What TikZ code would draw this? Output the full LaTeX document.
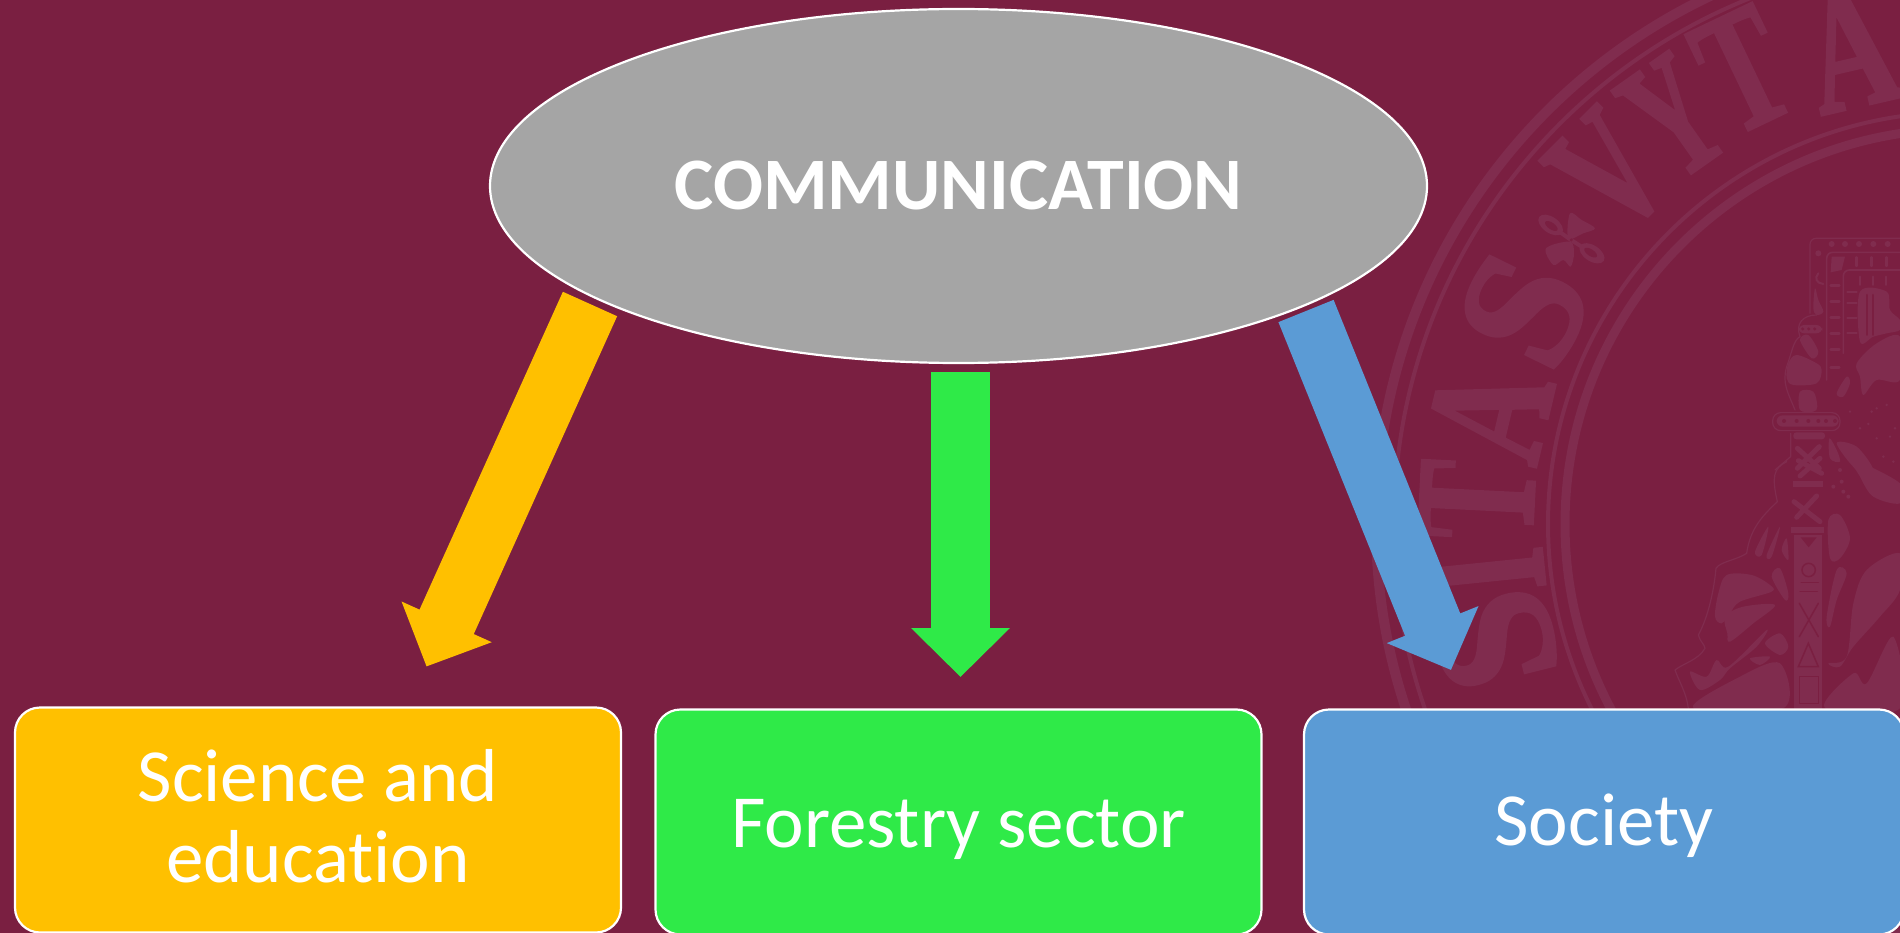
\documentclass[tikz,border=0pt]{standalone}
\usepackage{fontspec}
\setmainfont{Carlito}[Ligatures=NoCommon]
\newfontfamily\sealfont{Liberation Serif}[BoldFeatures={FakeBold=2}]
\usetikzlibrary{shapes.geometric,arrows.meta}
\definecolor{bgwine}{HTML}{7A1F41}
\definecolor{sealtone}{HTML}{802C4E}
\definecolor{ambr}{HTML}{FFC000}
\definecolor{lime}{HTML}{2FEA48}
\definecolor{sky}{HTML}{5B9BD5}
\definecolor{ovalgray}{HTML}{A5A5A5}
\tikzset{
  zm/.style 2 args={shift={(#1,#2)},x=.3333pt,y=-.3333pt},
  ring/.style={draw=sealtone,line width=#1},
  sealline/.style={draw=sealtone,line width=#1,line cap=round,line join=round},
  cutline/.style={draw=bgwine,line width=#1,line cap=round},
  boxnode/.style={draw=white,line width=2.2pt,rounded corners=25pt,text=white,
    minimum width=#1,minimum height=225pt,inner sep=0pt,outer sep=0pt,
    align=center,font=\fontsize{75}{81}\selectfont},
  fatarrow/.style={draw=#1,line width=59.5pt,
    -{Triangle[length=49pt,width=96pt,fill=#1,color=#1]}},
  sealletter/.style={text=sealtone,inner sep=0pt,font=\sealfont\bfseries\fontsize{172}{172}\selectfont}
}
\newcommand\blob[1]{\fill[sealtone] plot[smooth cycle,tension=.55] coordinates {#1};}
\newcommand\nudge[2]{\raisebox{#1}[\height][\depth]{#2}}
\begin{document}
\begin{tikzpicture}[x=1pt,y=-1pt]
\useasboundingbox (0,0) rectangle (1900,933);
\clip (0,0) rectangle (1900,933);
\fill[bgwine] (0,0) rectangle (1900,933);
% seal rings
\draw[ring=10pt] (1960,524) circle[radius=584];
\draw[ring=4pt] (1960,524) circle[radius=566];
\draw[ring=4pt] (1960,524) circle[radius=412];
\draw[ring=9pt] (1960,524) circle[radius=395];
% seal letters
\foreach \ch/\px/\py/\sc [count=\i] in {S/1495/640/1.0,I/1487/572/.66,T/1477/500/.68,A/1490/413/.7,S/1524/310/1.0,V/1609/173/.68,Y/1673/117/.6,T/1743/70/.68,A/1850/50/.7}{
  \pgfmathsetmacro\rot{atan2(524-\py,\px-1960)-90}
  \node[sealletter,rotate=\rot,xscale=\sc] (sl\i) at (\px,\py) {\ch};
}
% ornament
\begin{scope}[zm={1360}{0}]
  \draw[sealline=4pt] (633,720) -- (570,675) (633,720) -- (700,762);
  \fill[sealtone,rotate around={-35:(572,675)}] (572,675) ellipse[x radius=42,y radius=24];
  \fill[sealtone,rotate around={-33:(696,760)}] (696,760) ellipse[x radius=42,y radius=24];
  \fill[bgwine,rotate around={-35:(574,678)}] (574,678) ellipse[x radius=22,y radius=10];
  \fill[bgwine,rotate around={-33:(692,758)}] (692,758) ellipse[x radius=22,y radius=10];
  \blob{(625,715)(630,640)(665,660)(705,685)(670,700)}
  \blob{(630,725)(558,745)(580,795)(610,780)(632,800)(642,760)}
  \fill[bgwine] (634,720) circle[radius=5];
\end{scope}
% emblem upper part
\begin{scope}[zm={1660}{220}]
  \draw[sealline=1.2pt,rounded corners=6pt] (720,55) -- (450,55) -- (450,280);
  \draw[sealline=1.6pt,rounded corners=6pt] (720,97) -- (500,97) -- (500,480);
  \draw[sealline=1.6pt,rounded corners=6pt] (720,150) -- (550,150) -- (550,400);
  \foreach \cx in {515,555,597,640,683}{\fill[sealtone] (\cx,72) circle[radius=9];}
  \fill[sealtone] (475,100) circle[radius=9];
  \foreach \cy in {197,245,292,340,388,443}{\draw[sealline=2.5pt] (512,\cy) -- (538,\cy);}
  \foreach \cy in {215,250,295,340}{\draw[sealline=2pt] (562,\cy) -- (590,\cy);}
  \foreach \cx in {590,635,680}{\draw[sealline=2.5pt] (\cx,112) -- (\cx,138);}
  \foreach \cx in {600,640,677}{\draw[sealline=2pt] (\cx,170) -- (\cx,195);}
  \fill[sealtone] (515,110) -- (555,110) -- (545,150) -- (512,157) -- cycle;
  \draw[sealline=2pt] (475,160) .. controls (462,175) and (470,190) .. (490,192);
  \blob{(465,205)(475,240)(490,275)(470,285)(460,265)}
  \blob{(600,215)(680,215)(690,270)(720,300)(720,330)(680,340)(640,350)(600,365)}
  \draw[cutline=2pt] (620,225) -- (620,345) (640,225) -- (640,345);
  \blob{(590,430)(650,370)(720,350)(720,480)(650,480)(610,525)(600,470)}
  \blob{(530,520)(560,470)(570,490)(550,530)}
  % hand and cuff
  \draw[sealline=1.2pt] (405,570) .. controls (385,520) and (365,490) .. (380,440) .. controls (395,400) and (400,360) .. (420,350);
  \draw[sealline=1.2pt] (420,350) .. controls (405,310) and (430,285) .. (470,285);
  \fill[sealtone,rounded corners=6pt] (415,315) rectangle (487,340);
  \foreach \cx in {428,446,464}{\fill[bgwine] (\cx,327) circle[radius=5];}
  \blob{(385,430)(410,405)(470,430)(485,450)(470,490)(400,495)(380,475)}
  \blob{(420,360)(445,345)(475,395)(455,415)}
  \blob{(420,515)(460,515)(472,560)(460,575)(420,570)}
  % guard
  \draw[sealline=1.2pt,rounded corners=8pt] (338,578) rectangle (540,632);
  \fill[sealtone,rounded corners=6pt] (350,586) rectangle (536,620);
  \foreach \cx in {372,410,445,475,498,525}{\fill[bgwine] (\cx,603) circle[radius=6];}
  \fill[sealtone,rounded corners=3pt] (400,637) rectangle (495,658);
  \draw[sealline=5pt] (412,685) -- (478,745) (478,680) -- (412,745);
  \draw[sealline=1.2pt] (392,640) -- (392,710) -- (345,750);
  \blob{(508,655)(530,690)(540,725)(510,715)}
  \blob{(530,670)(590,680)(640,750)(590,750)}
  \foreach \x/\y in {570/575,650/565,680/555,635/575,600/625,625/612,650/655,690/650,705/625,670/710,700/725}{\fill[sealtone] (\x,\y) circle[radius=4];}
\end{scope}
% emblem lower part
\begin{scope}[zm={1640}{460}]
  \fill[sealtone] (462,225) rectangle (545,750);
  \fill[bgwine] (482,232) -- (530,232) -- (506,262) -- cycle;
  \draw[cutline=1.5pt] (506,330) circle[radius=20];
  \draw[cutline=1.5pt] (484,368) -- (535,368) (480,395) -- (532,395);
  \draw[cutline=1.5pt] (478,430) -- (535,530) (535,430) -- (478,530);
  \draw[cutline=1.5pt] (505,550) -- (475,620) -- (535,620) -- cycle;
  \draw[cutline=1.5pt] (478,650) rectangle (535,730);
  \fill[sealtone] (452,200) rectangle (552,218);
  \fill[sealtone] (458,62) rectangle (548,80);
  \draw[sealline=5pt] (462,125) -- (540,185) (530,108) -- (470,172);
  \draw[sealline=5pt] (475,2) -- (545,40) (540,-5) -- (480,48);
  \draw[sealline=1.2pt] (440,5) .. controls (400,25) and (395,50) .. (412,125) .. controls (370,165) and (330,205) .. (320,280) .. controls (290,300) and (240,305) .. (228,325) .. controls (222,390) and (205,470) .. (175,525) .. controls (180,545) and (195,555) .. (195,565) .. controls (175,600) and (130,610) .. (105,630) .. controls (115,660) and (140,700) .. (145,745);
  \blob{(225,470)(235,400)(260,345)(335,345)(390,375)(395,395)(300,425)(270,460)(245,490)}
  \blob{(255,470)(310,440)(405,435)(340,490)(270,545)(262,520)}
  \blob{(150,635)(200,650)(230,600)(265,620)(380,510)(350,560)(270,625)(240,660)(180,690)}
  \blob{(160,745)(300,650)(420,610)(430,745)}
  \blob{(375,550)(420,520)(445,560)(420,585)}
  \blob{(330,595)(390,590)(360,615)}
  \blob{(395,350)(420,325)(445,400)(435,420)}
  \blob{(345,275)(385,200)(365,285)}
  \blob{(380,285)(420,200)(395,290)}
  \blob{(425,270)(440,235)(445,300)}
  \blob{(565,610)(620,590)(640,430)(680,330)(780,280)(780,390)(720,470)(640,560)(600,620)}
  \blob{(555,745)(640,640)(680,670)(760,530)(780,745)}
  \blob{(560,470)(590,330)(620,340)(590,420)(570,500)}
  \blob{(565,180)(600,165)(630,235)(600,295)(570,295)}
  \blob{(640,0)(780,70)(780,130)(700,110)(660,50)}
  \foreach \x/\y in {600/30,610/95,580/80,605/65,625/110}{\fill[sealtone] (\x,\y) circle[radius=6];}
\end{scope}
% main diagram
\node[ellipse,draw=white,line width=2.2pt,fill=ovalgray,minimum width=937pt,minimum height=354pt,
  inner sep=0pt,outer sep=0pt,text=white,font=\bfseries\fontsize{74}{74}\selectfont] (comm) at (958.5,186) {COMMUNICATION};
\node[boxnode=606pt,fill=ambr] (sci) at (318,820) {\nudge{4pt}{Science and}\\\nudge{4pt}{education}};
\node[boxnode=606pt,fill=lime] (forest) at (958.5,822) {\nudge{-7pt}{Forestry sector}};
\node[boxnode=600pt,fill=sky] (soc) at (1604,822) {\nudge{-4pt}{Society}};
\coordinate (ya) at (590,304);
\coordinate (yb) at (426.5,666.5);
\coordinate (ga) at (960.5,372);
\coordinate (gb) at (960.5,677);
\coordinate (ba) at (1306,311);
\coordinate (bb) at (1451,670);
\draw[fatarrow=ambr] (ya) -- (yb);
\draw[fatarrow=lime] (ga) -- (gb);
\draw[fatarrow=sky] (ba) -- (bb);
\end{tikzpicture}
\end{document}
